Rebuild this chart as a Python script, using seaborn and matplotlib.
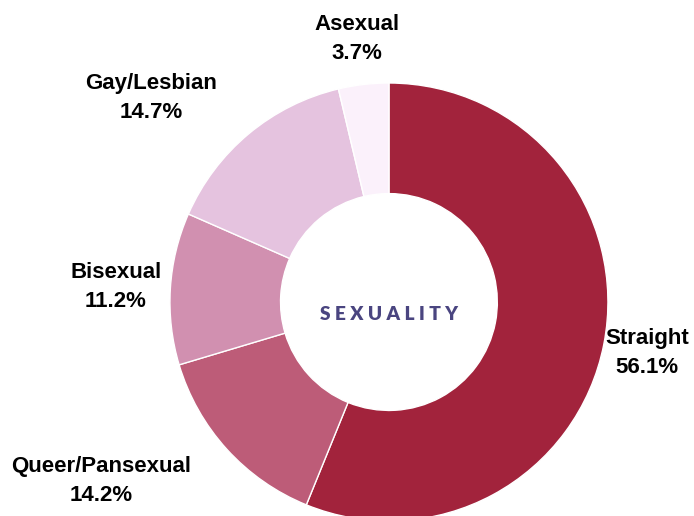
import seaborn as sns
import matplotlib.pyplot as plt
import numpy as np

labels = ["Straight", "Queer/Pansexual", "Bisexual", "Gay/Lesbian", "Asexual"]
values = [56.1, 14.2, 11.2, 14.7, 3.7]
colors = ["#A2233C", "#BD5C78", "#D190B0", "#E5C3DF", "#FBF1FB"]
# label placement, in units of the outer radius, relative to centre
label_pos = [(1.18, -0.235), (-1.315, -0.815), (-1.247, 0.07), (-1.087, 0.93), (-0.146, 1.2)]

sns.set_theme(style="white")
plt.rcParams['font.family'] = ['Liberation Sans', 'DejaVu Sans']

fig = plt.figure(figsize=(6.94, 5.16), dpi=100)
ax = fig.add_axes([0, 0, 1, 1])

wedges, _ = ax.pie(values, colors=colors, startangle=90, counterclock=False,
                   radius=1, wedgeprops=dict(width=0.505, edgecolor="white", linewidth=1))

for lab, v, (x, y) in zip(labels, values, label_pos):
    ax.text(x, y, f"{lab}\n{v:.1f}%", ha="center", va="center", fontsize=16,
            fontweight="bold", color="black", linespacing=1.5)

ax.text(0, -0.055, " ".join("SEXUALITY"), ha="center", va="center", fontsize=13.8,
        fontweight="heavy", color="#4A4580", family=["Lato", "DejaVu Sans"])

ax.set_xlim(-1.776, 1.393)
ax.set_ylim(-0.977, 1.379)
ax.set_aspect("auto")
ax.axis("off")

fig.savefig("out.png", dpi=100)
